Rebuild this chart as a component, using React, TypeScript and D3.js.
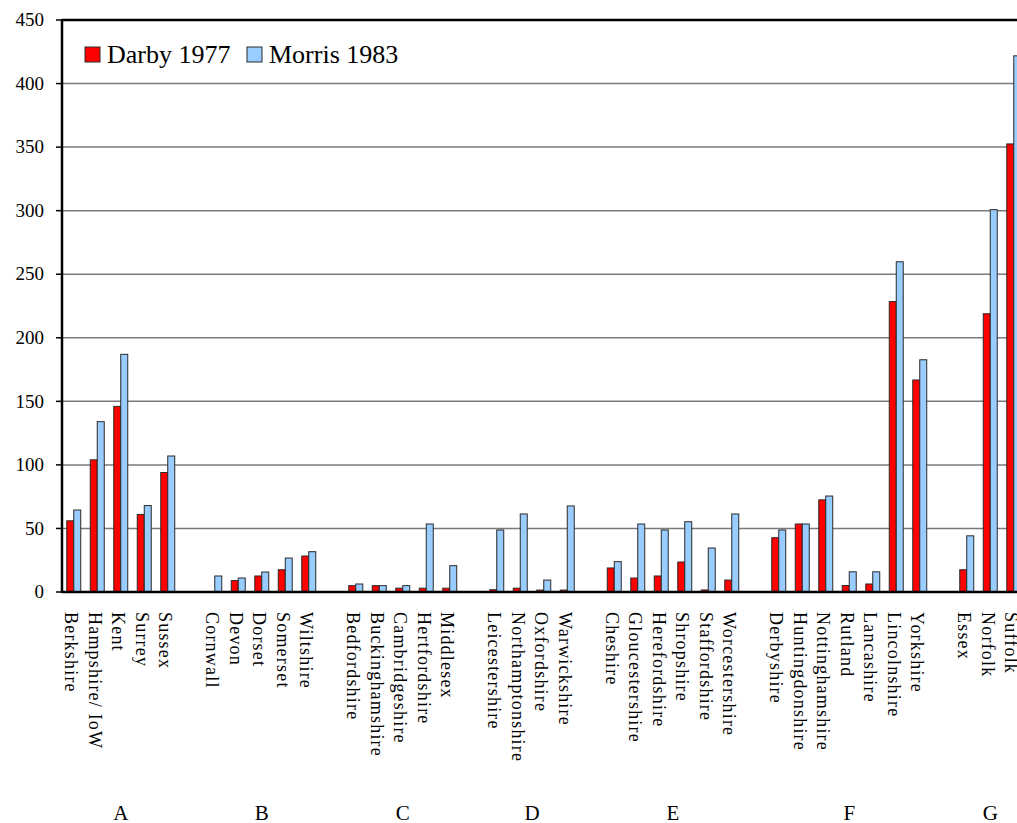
import * as d3 from 'd3';

const groups = ['A', 'B', 'C', 'D', 'E', 'F', 'G'];
const groupCounties = [
    ['Berkshire', 'Hampshire/ IoW', 'Kent', 'Surrey', 'Sussex'],
    ['Cornwall', 'Devon', 'Dorset', 'Somerset', 'Wiltshire'],
    ['Bedfordshire', 'Buckinghamshire', 'Cambridgeshire', 'Hertfordshire', 'Middlesex'],
    ['Leicestershire', 'Northamptonshire', 'Oxfordshire', 'Warwickshire'],
    ['Cheshire', 'Gloucestershire', 'Herefordshire', 'Shropshire', 'Staffordshire', 'Worcestershire'],
    ['Derbyshire', 'Huntingdonshire', 'Nottinghamshire', 'Rutland', 'Lancashire', 'Lincolnshire', 'Yorkshire'],
    ['Essex', 'Norfolk', 'Suffolk'],
];
const darby1977 = [
    56, 104, 146, 61, 94,
    0, 9, 12.6, 17.5, 28.3,
    5, 5, 3, 3, 3,
    1.8, 3, 1.5, 1.5,
    18.9, 11, 12.6, 23.6, 1.6, 9.4,
    42.7, 53.5, 72.5, 5.1, 6.3, 228.5, 166.8,
    17.5, 218.9, 352.5,
];
const morris1983 = [
    64.5, 134, 187, 68, 107,
    12.6, 11, 15.7, 26.7, 31.7,
    6.3, 5, 5, 53.5, 20.7,
    48.8, 61.4, 9.4, 67.7,
    23.9, 53.5, 48.8, 55.3, 34.6, 61.4,
    48.8, 53.5, 75.5, 15.9, 15.9, 259.8, 182.7,
    44.2, 300.8, 421.8,
];
const seriesNames = ['Darby 1977', 'Morris 1983'];
const seriesColors = ['#ff0000', '#99ccff'];
const yTicks = [0, 50, 100, 150, 200, 250, 300, 350, 400, 450];

export default function App() {
    const width = 1017;
    const height = 823;
    const left = 62;
    const top = 20;
    const bottom = 592;
    const slotW = 23.5;
    const font = "'Liberation Serif', 'Times New Roman', serif";

    // slots: counties plus one empty slot between groups
    const slots: string[] = [];
    groupCounties.forEach((cs, i) => {
        cs.forEach((c) => slots.push(c));
        if (i < groupCounties.length - 1) slots.push(`gap${i}`);
    });
    const counties = groupCounties.flat();

    const x0 = d3.scaleBand().domain(slots).range([left, left + slots.length * slotW]);
    const x1 = d3.scaleBand().domain(seriesNames).range([0, x0.bandwidth()]).paddingOuter(0.68);
    const y = d3.scaleLinear().domain([0, 450]).range([bottom, top]);

    const rows = counties.map((c, i) => ({ county: c, values: [darby1977[i], morris1983[i]] }));

    return (
        <div style={{ position: 'absolute', left: 0, top: 0 }}>
            <svg width={width} height={height} style={{ display: 'block', background: '#fff' }}>
                {/* grid */}
                {yTicks.slice(1, -1).map((t) => (
                    <line key={t} x1={left} x2={width} y1={y(t)} y2={y(t)} stroke='#7a7a7a' strokeWidth={1.5} />
                ))}
                {yTicks.map((t) => (
                    <g key={'t' + t}>
                        <line x1={left - 6} x2={left} y1={y(t)} y2={y(t)} stroke='#000' strokeWidth={1.5} />
                        <text x={44} y={y(t)} dy='0.33em' textAnchor='end' fontFamily={font} fontSize={19} fill='#000'>
                            {t}
                        </text>
                    </g>
                ))}
                {/* bars */}
                {rows.map((r) => (
                    <g key={r.county} transform={`translate(${x0(r.county)},0)`}>
                        {r.values.map((v, j) =>
                            v > 0 ? (
                                <rect
                                    key={j}
                                    x={x1(seriesNames[j])}
                                    y={y(v)}
                                    width={x1.bandwidth()}
                                    height={y(0) - y(v)}
                                    fill={seriesColors[j]}
                                    stroke='#2a2a2a'
                                    strokeWidth={1}
                                />
                            ) : null
                        )}
                    </g>
                ))}
                {/* frame */}
                <line x1={left} x2={width} y1={top} y2={top} stroke='#000' strokeWidth={2.5} />
                <line x1={left} x2={width} y1={bottom} y2={bottom} stroke='#000' strokeWidth={2.5} />
                <line x1={left} x2={left} y1={top - 1} y2={bottom + 1} stroke='#000' strokeWidth={2.5} />
                {/* county labels */}
                {counties.map((c) => {
                    const cx = (x0(c) as number) + x0.bandwidth() / 2 - 8.7;
                    return (
                        <text
                            key={'l' + c}
                            transform={`translate(${cx},612) rotate(90)`}
                            fontFamily={font}
                            fontSize={18}
                            letterSpacing={1.2}
                            fill='#000'
                        >
                            {c}
                        </text>
                    );
                })}
                {/* group labels */}
                {groups.map((g, i) => {
                    const cs = groupCounties[i];
                    const a = x0(cs[0]) as number;
                    const b = (x0(cs[cs.length - 1]) as number) + x0.bandwidth();
                    return (
                        <text key={g} x={(a + b) / 2} y={820} textAnchor='middle' fontFamily={font} fontSize={21} fill='#000'>
                            {g}
                        </text>
                    );
                })}
                {/* legend */}
                <rect x={85} y={47} width={15} height={15} fill={seriesColors[0]} stroke='#2a2a2a' />
                <text x={107} y={63} fontFamily={font} fontSize={26} fill='#000'>
                    {seriesNames[0]}
                </text>
                <rect x={247} y={47} width={15} height={15} fill={seriesColors[1]} stroke='#2a2a2a' />
                <text x={269} y={63} fontFamily={font} fontSize={26} fill='#000'>
                    {seriesNames[1]}
                </text>
            </svg>
        </div>
    );
}
